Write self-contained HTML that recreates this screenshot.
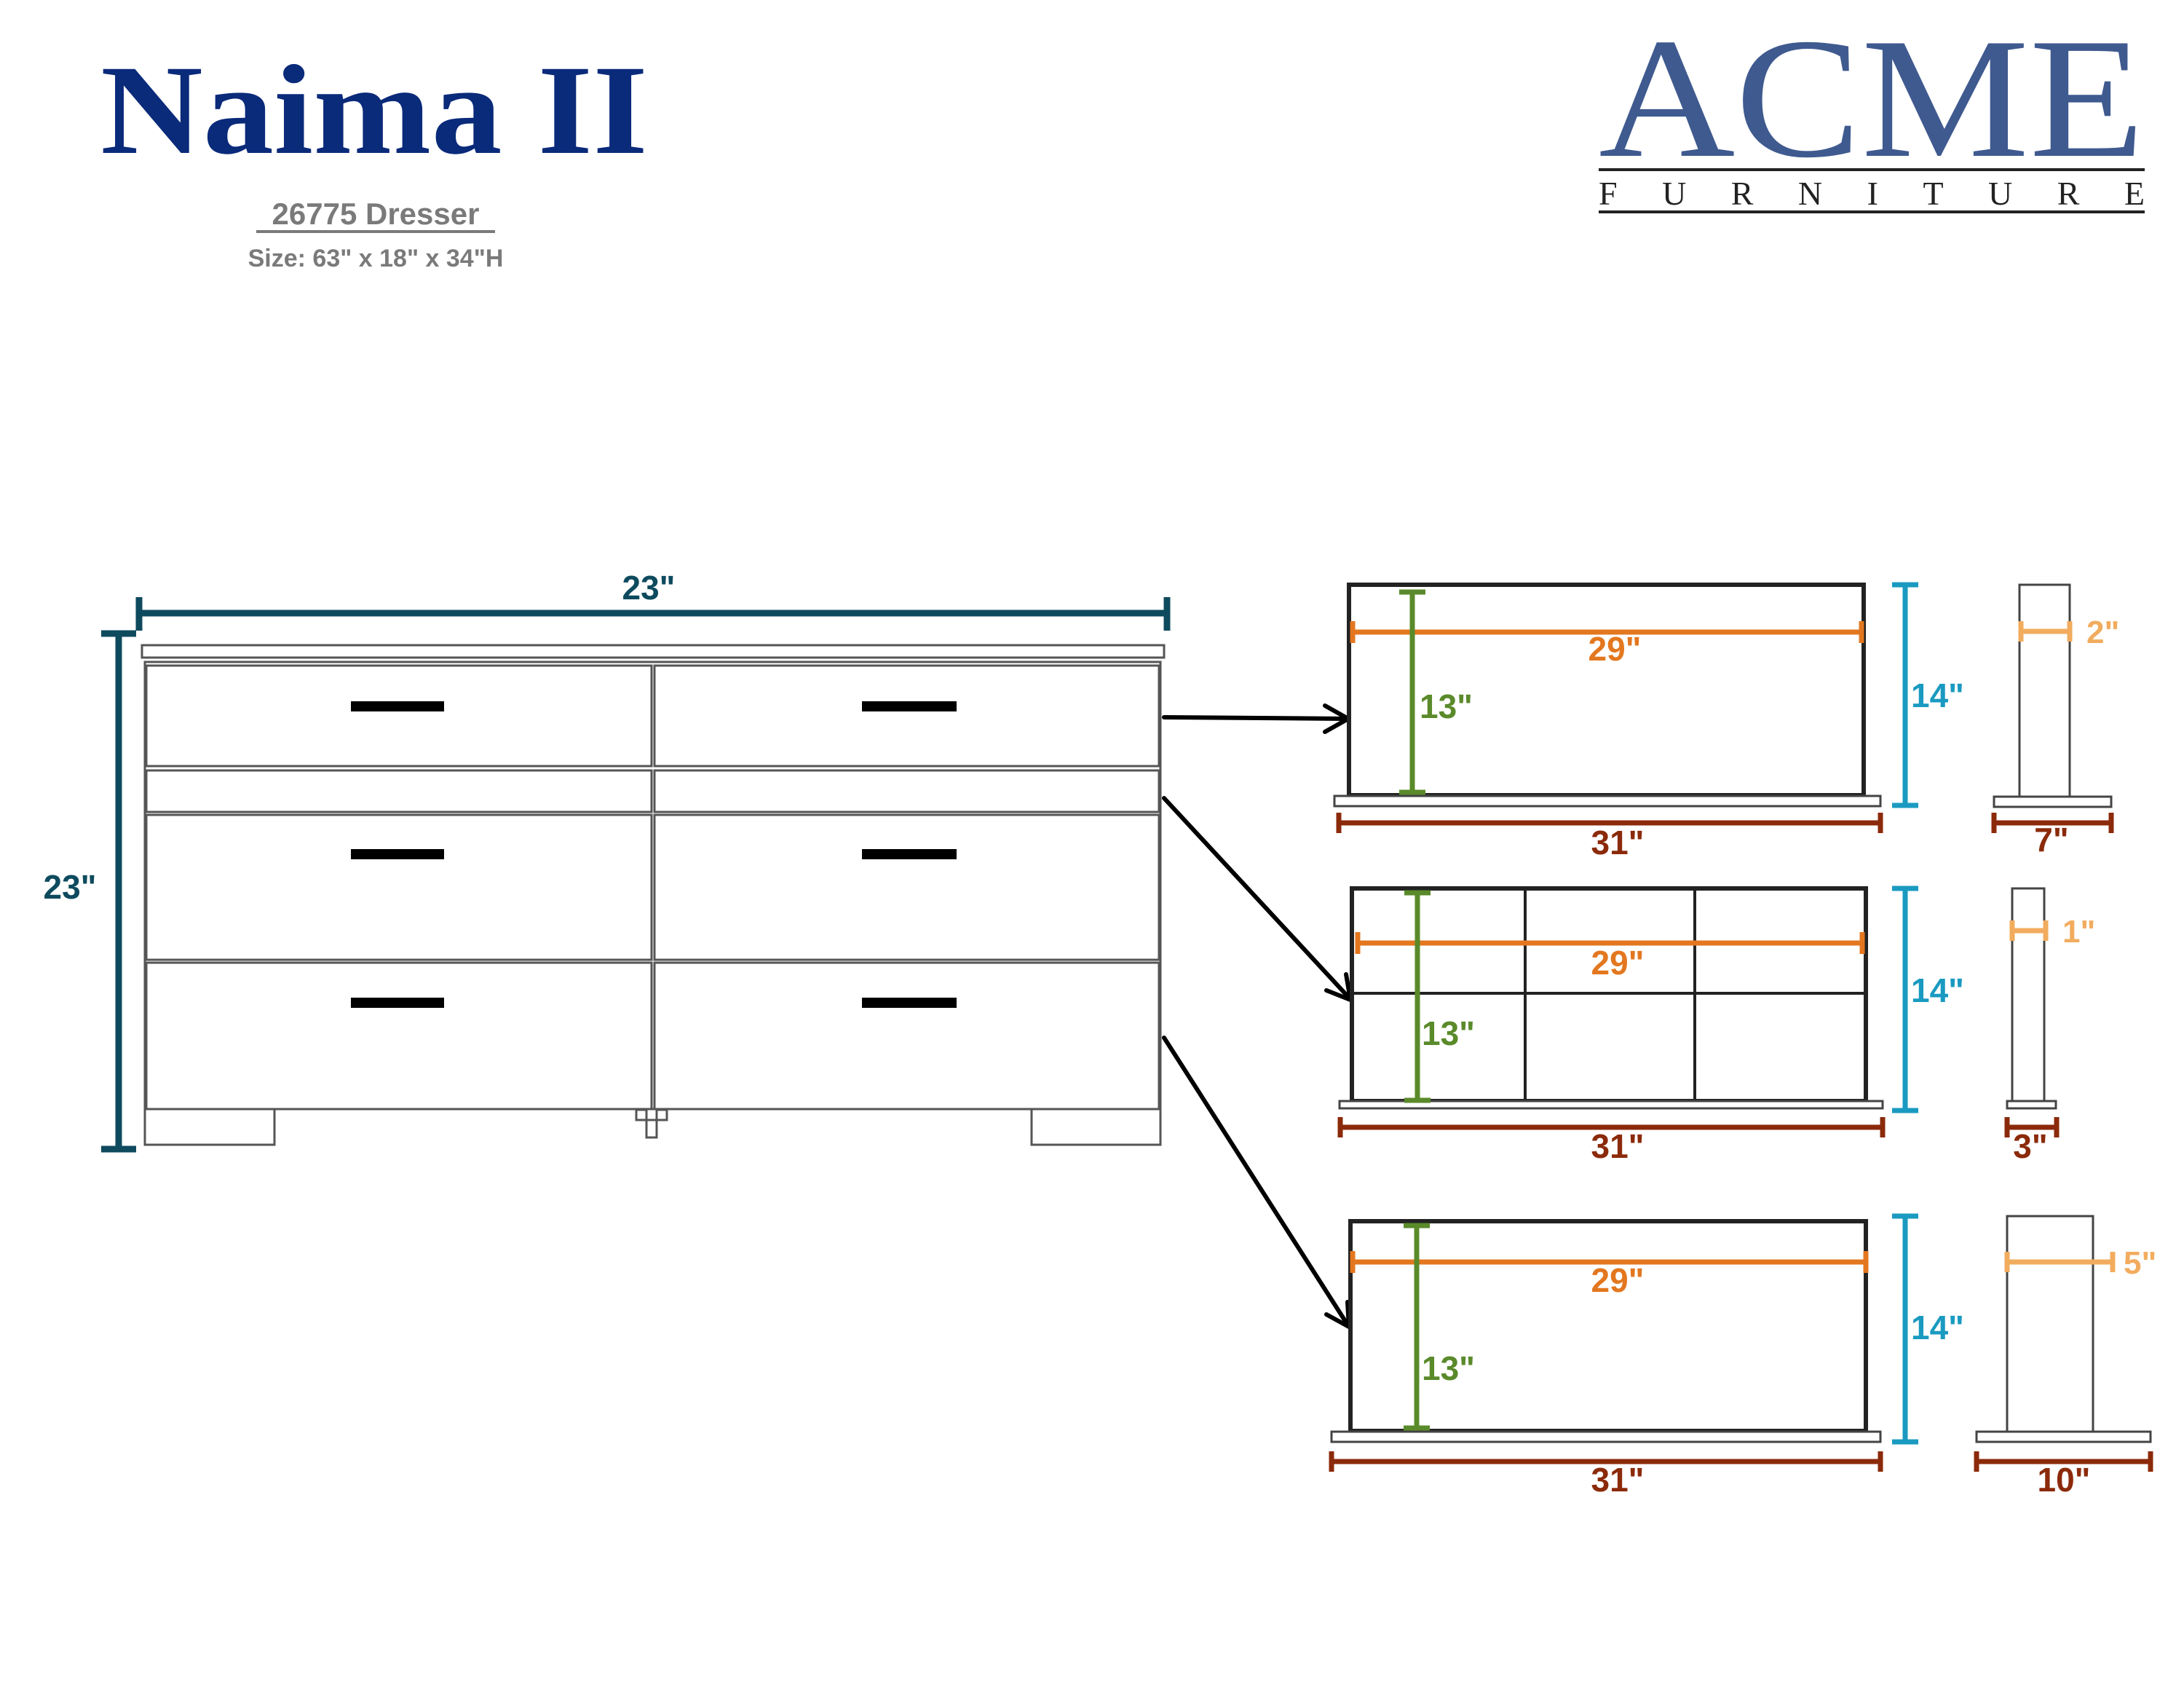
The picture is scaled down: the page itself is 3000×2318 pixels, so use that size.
<!DOCTYPE html>
<html><head><meta charset="utf-8"><style>
html,body{margin:0;padding:0;background:#fff}
svg{display:block}
text{font-family:"Liberation Sans",sans-serif;font-weight:bold}
</style></head><body>
<svg width="3000" height="2318" viewBox="0 0 3000 2318" xmlns="http://www.w3.org/2000/svg">
<!-- Header -->
<text x="138" y="210" font-size="176" fill="#0a2a7a" textLength="752" lengthAdjust="spacingAndGlyphs" style="font-family:'Liberation Serif',serif">Naima II</text>
<text x="516" y="308" font-size="42" fill="#7a7a7a" text-anchor="middle">26775 Dresser</text>
<line x1="352" y1="318" x2="680" y2="318" stroke="#7a7a7a" stroke-width="4"/>
<text x="516" y="366" font-size="34" fill="#7a7a7a" text-anchor="middle">Size: 63" x 18" x 34"H</text>

<text x="2196" y="214" font-size="236" fill="#3f5a8f" textLength="750" lengthAdjust="spacingAndGlyphs" style="font-family:'Liberation Serif',serif;font-weight:normal">ACME</text>
<line x1="2196" y1="233" x2="2946" y2="233" stroke="#222" stroke-width="4"/>
<text x="2196" y="281" font-size="46" fill="#222" textLength="750" lengthAdjust="spacing" style="font-family:'Liberation Serif',serif;font-weight:normal">FURNITURE</text>
<line x1="2196" y1="291" x2="2946" y2="291" stroke="#222" stroke-width="4"/>

<!-- Dresser dims -->
<g stroke="#0e4a5e" stroke-width="9" fill="none">
<line x1="191" y1="842" x2="1603" y2="842"/>
<line x1="191" y1="820" x2="191" y2="866"/>
<line x1="1603" y1="820" x2="1603" y2="866"/>
<line x1="163" y1="870" x2="163" y2="1578"/>
<line x1="139" y1="870" x2="187" y2="870"/>
<line x1="139" y1="1578" x2="187" y2="1578"/>
</g>
<text x="891" y="823" font-size="46" fill="#0e4a5e" text-anchor="middle">23"</text>
<text x="96" y="1234" font-size="46" fill="#0e4a5e" text-anchor="middle">23"</text>

<!-- Dresser -->
<g stroke="#555" stroke-width="3" fill="#fff">
<rect x="195" y="886" width="1404" height="17"/>
<rect x="199" y="909" width="1395" height="614"/>
<rect x="201" y="914" width="694" height="138"/>
<rect x="899" y="914" width="693" height="138"/>
<rect x="201" y="1058" width="694" height="57"/>
<rect x="899" y="1058" width="693" height="57"/>
<rect x="201" y="1119" width="694" height="199"/>
<rect x="899" y="1119" width="693" height="199"/>
<rect x="201" y="1322" width="694" height="201"/>
<rect x="899" y="1322" width="693" height="201"/>
<rect x="199" y="1523" width="178" height="49"/>
<rect x="1417" y="1523" width="177" height="49"/>
<rect x="874" y="1524" width="14" height="14"/>
<rect x="902" y="1524" width="14" height="14"/>
<rect x="888" y="1538" width="14" height="24"/>
</g>
<g fill="#000">
<rect x="482" y="963" width="128" height="14"/><rect x="1184" y="963" width="130" height="14"/>
<rect x="482" y="1166" width="128" height="14"/><rect x="1184" y="1166" width="130" height="14"/>
<rect x="482" y="1370" width="128" height="14"/><rect x="1184" y="1370" width="130" height="14"/>
</g>

<!-- Arrows -->
<g stroke="#000" stroke-width="6" fill="none" stroke-linecap="round">
<line x1="1599" y1="985" x2="1850" y2="987"/>
<polyline points="1820,969 1852,987 1820,1005"/>
<line x1="1599" y1="1096" x2="1853" y2="1370"/>
<polyline points="1822,1360 1855,1373 1849,1338"/>
<line x1="1599" y1="1425" x2="1851" y2="1819"/>
<polyline points="1822,1805 1853,1822 1851,1788"/>
</g>

<!-- Panel frames -->
<g stroke="#222" stroke-width="6" fill="#fff">
<rect x="1853" y="803" width="707" height="289"/>
<rect x="1857" y="1220" width="706" height="292"/>
<rect x="1855" y="1677" width="708" height="288"/>
</g>
<g stroke="#222" stroke-width="4" fill="none">
<line x1="2095" y1="1220" x2="2095" y2="1512"/>
<line x1="2328" y1="1220" x2="2328" y2="1512"/>
<line x1="1857" y1="1364" x2="2563" y2="1364"/>
</g>
<g stroke="#444" stroke-width="3" fill="#fff">
<rect x="1833" y="1093" width="750" height="14"/>
<rect x="1840" y="1512" width="746" height="10"/>
<rect x="1829" y="1966" width="754" height="14"/>
<rect x="2774" y="803" width="69" height="291"/>
<rect x="2739" y="1094" width="161" height="14"/>
<rect x="2764" y="1220" width="44" height="292"/>
<rect x="2757" y="1512" width="67" height="10"/>
<rect x="2757" y="1670" width="118" height="296"/>
<rect x="2715" y="1966" width="239" height="14"/>
</g>

<!-- Brown dims -->
<g stroke="#8b2a0a" stroke-width="7" fill="none">
<line x1="1839" y1="1130" x2="2583" y2="1130"/><line x1="1839" y1="1116" x2="1839" y2="1144"/><line x1="2583" y1="1116" x2="2583" y2="1144"/>
<line x1="1841" y1="1548" x2="2586" y2="1548"/><line x1="1841" y1="1534" x2="1841" y2="1562"/><line x1="2586" y1="1534" x2="2586" y2="1562"/>
<line x1="1829" y1="2007" x2="2583" y2="2007"/><line x1="1829" y1="1993" x2="1829" y2="2021"/><line x1="2583" y1="1993" x2="2583" y2="2021"/>
<line x1="2739" y1="1130" x2="2900" y2="1130"/><line x1="2739" y1="1116" x2="2739" y2="1144"/><line x1="2900" y1="1116" x2="2900" y2="1144"/>
<line x1="2757" y1="1548" x2="2825" y2="1548"/><line x1="2757" y1="1534" x2="2757" y2="1562"/><line x1="2825" y1="1534" x2="2825" y2="1562"/>
<line x1="2715" y1="2007" x2="2954" y2="2007"/><line x1="2715" y1="1993" x2="2715" y2="2021"/><line x1="2954" y1="1993" x2="2954" y2="2021"/>
</g>
<g font-size="46" fill="#8b2a0a" text-anchor="middle">
<text x="2222" y="1173">31"</text><text x="2222" y="1590">31"</text><text x="2222" y="2048">31"</text>
<text x="2818" y="1169">7"</text><text x="2789" y="1590">3"</text><text x="2835" y="2048">10"</text>
</g>

<!-- Orange -->
<g stroke="#e3771f" stroke-width="7">
<line x1="1858" y1="868" x2="2557" y2="868"/><line x1="1858" y1="853" x2="1858" y2="883"/><line x1="2557" y1="853" x2="2557" y2="883"/>
<line x1="1865" y1="1295" x2="2558" y2="1295"/><line x1="1865" y1="1280" x2="1865" y2="1310"/><line x1="2558" y1="1280" x2="2558" y2="1310"/>
<line x1="1858" y1="1733" x2="2563" y2="1733"/><line x1="1858" y1="1718" x2="1858" y2="1748"/><line x1="2563" y1="1718" x2="2563" y2="1748"/>
</g>
<g font-size="46" fill="#e3771f" text-anchor="middle">
<text x="2218" y="907">29"</text><text x="2222" y="1338">29"</text><text x="2222" y="1774">29"</text>
</g>
<g stroke="#f2ac5e" stroke-width="7">
<line x1="2776" y1="867" x2="2843" y2="867"/><line x1="2776" y1="853" x2="2776" y2="881"/><line x1="2843" y1="853" x2="2843" y2="881"/>
<line x1="2764" y1="1278" x2="2810" y2="1278"/><line x1="2764" y1="1264" x2="2764" y2="1292"/><line x1="2810" y1="1264" x2="2810" y2="1292"/>
<line x1="2757" y1="1733" x2="2902" y2="1733"/><line x1="2757" y1="1719" x2="2757" y2="1747"/><line x1="2902" y1="1719" x2="2902" y2="1747"/>
</g>
<g font-size="44" fill="#f2ac5e">
<text x="2866" y="883">2"</text><text x="2833" y="1294">1"</text><text x="2917" y="1749">5"</text>
</g>

<!-- Green -->
<g stroke="#5a8a2a" stroke-width="7">
<line x1="1940" y1="813" x2="1940" y2="1088"/><line x1="1922" y1="813" x2="1958" y2="813"/><line x1="1922" y1="1088" x2="1958" y2="1088"/>
<line x1="1947" y1="1226" x2="1947" y2="1511"/><line x1="1929" y1="1226" x2="1965" y2="1226"/><line x1="1929" y1="1511" x2="1965" y2="1511"/>
<line x1="1946" y1="1683" x2="1946" y2="1961"/><line x1="1928" y1="1683" x2="1964" y2="1683"/><line x1="1928" y1="1961" x2="1964" y2="1961"/>
</g>
<g font-size="46" fill="#5a8a2a">
<text x="1950" y="986">13"</text><text x="1953" y="1435">13"</text><text x="1953" y="1895">13"</text>
</g>

<!-- Blue -->
<g stroke="#1a9ac0" stroke-width="7">
<line x1="2617" y1="803" x2="2617" y2="1106"/><line x1="2599" y1="803" x2="2635" y2="803"/><line x1="2599" y1="1106" x2="2635" y2="1106"/>
<line x1="2617" y1="1220" x2="2617" y2="1525"/><line x1="2599" y1="1220" x2="2635" y2="1220"/><line x1="2599" y1="1525" x2="2635" y2="1525"/>
<line x1="2617" y1="1670" x2="2617" y2="1980"/><line x1="2599" y1="1670" x2="2635" y2="1670"/><line x1="2599" y1="1980" x2="2635" y2="1980"/>
</g>
<g font-size="46" fill="#1a9ac0">
<text x="2625" y="971">14"</text><text x="2625" y="1376">14"</text><text x="2625" y="1839">14"</text>
</g>
</svg>
</body></html>
